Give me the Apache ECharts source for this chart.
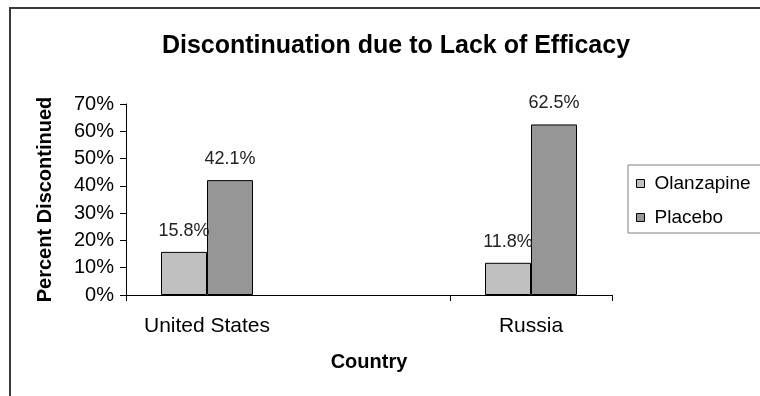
<!DOCTYPE html>
<html>
<head>
<meta charset="utf-8">
<script src="https://cdn.jsdelivr.net/npm/echarts@6/dist/echarts.min.js"></script>
<style>
  html, body { margin: 0; padding: 0; background: #fff; }
  #chart { width: 760px; height: 396px; }
</style>
</head>
<body>
<div id="chart"></div>
<script>
// Categories along the x axis (the middle slot is an empty spacer)
const countries = ['United States', '', 'Russia'];
// Percent discontinued per country
const olanzapine = [15.8, null, 11.8];
const placebo = [42.1, null, 62.5];
// Y axis range and step (percent)
const yMin = 0, yMax = 70, yStep = 10;

const FONT = 'Liberation Sans, Arial, sans-serif';
const chart = echarts.init(document.getElementById('chart'), null, { renderer: 'canvas' });

const labelStyle = {
  show: true,
  position: 'top',
  distance: 12,
  fontFamily: FONT,
  fontSize: 18,
  color: '#222',
  formatter: p => p.value.toFixed(1) + '%'
};

chart.setOption({
  animation: false,
  backgroundColor: '#fff',
  title: {
    text: 'Discontinuation due to Lack of Efficacy',
    left: 391,
    textAlign: 'center',
    top: 29,
    textStyle: { fontFamily: FONT, fontSize: 25, fontWeight: 'bold', color: '#000' }
  },
  legend: {
    orient: 'vertical',
    left: 628,
    top: 165,
    padding: [9, 60, 6, 8],
    itemGap: 15,
    itemWidth: 8,
    itemHeight: 8,
    icon: 'rect',
    borderColor: '#808080',
    borderWidth: 1,
    backgroundColor: '#fff',
    itemStyle: { borderColor: '#000', borderWidth: 1 },
    textStyle: { fontFamily: FONT, fontSize: 19, color: '#000', padding: [0, 0, 0, 5] },
    data: ['Olanzapine', 'Placebo']
  },
  grid: { left: 126, top: 104, width: 486, height: 191, containLabel: false },
  xAxis: {
    type: 'category',
    data: countries,
    name: 'Country',
    nameLocation: 'middle',
    nameGap: 57,
    nameTextStyle: { fontFamily: FONT, fontSize: 20, fontWeight: 'bold', color: '#000' },
    axisLine: { lineStyle: { color: '#000', width: 1 } },
    axisTick: { show: true, length: 6, alignWithLabel: false, lineStyle: { color: '#000' } },
    axisLabel: { fontFamily: FONT, fontSize: 21, color: '#000', margin: 21 },
    splitLine: { show: false }
  },
  yAxis: {
    type: 'value',
    min: yMin,
    max: yMax,
    interval: yStep,
    name: 'Percent Discontinued',
    nameLocation: 'middle',
    nameRotate: 90,
    nameGap: 71,
    nameTextStyle: { fontFamily: FONT, fontSize: 20, fontWeight: 'bold', color: '#000' },
    axisLine: { show: true, lineStyle: { color: '#000', width: 1 } },
    axisTick: { show: true, length: 6, lineStyle: { color: '#000' } },
    axisLabel: { fontFamily: FONT, fontSize: 20, color: '#000', margin: 12, formatter: v => v + '%' },
    splitLine: { show: false }
  },
  series: [
    {
      name: 'Olanzapine',
      type: 'bar',
      data: olanzapine,
      barWidth: 46,
      barGap: '0%',
      itemStyle: { color: '#c0c0c0', borderColor: '#000', borderWidth: 1 },
      label: labelStyle
    },
    {
      name: 'Placebo',
      type: 'bar',
      data: placebo,
      barWidth: 46,
      barGap: '0%',
      itemStyle: { color: '#969696', borderColor: '#000', borderWidth: 1 },
      label: labelStyle
    }
  ],
  graphic: [
    {
      type: 'rect',
      shape: { x: 10, y: 8, width: 820, height: 500 },
      style: { fill: 'none', stroke: '#3a3a3a', lineWidth: 2 },
      silent: true
    }
  ]
});
</script>
</body>
</html>
